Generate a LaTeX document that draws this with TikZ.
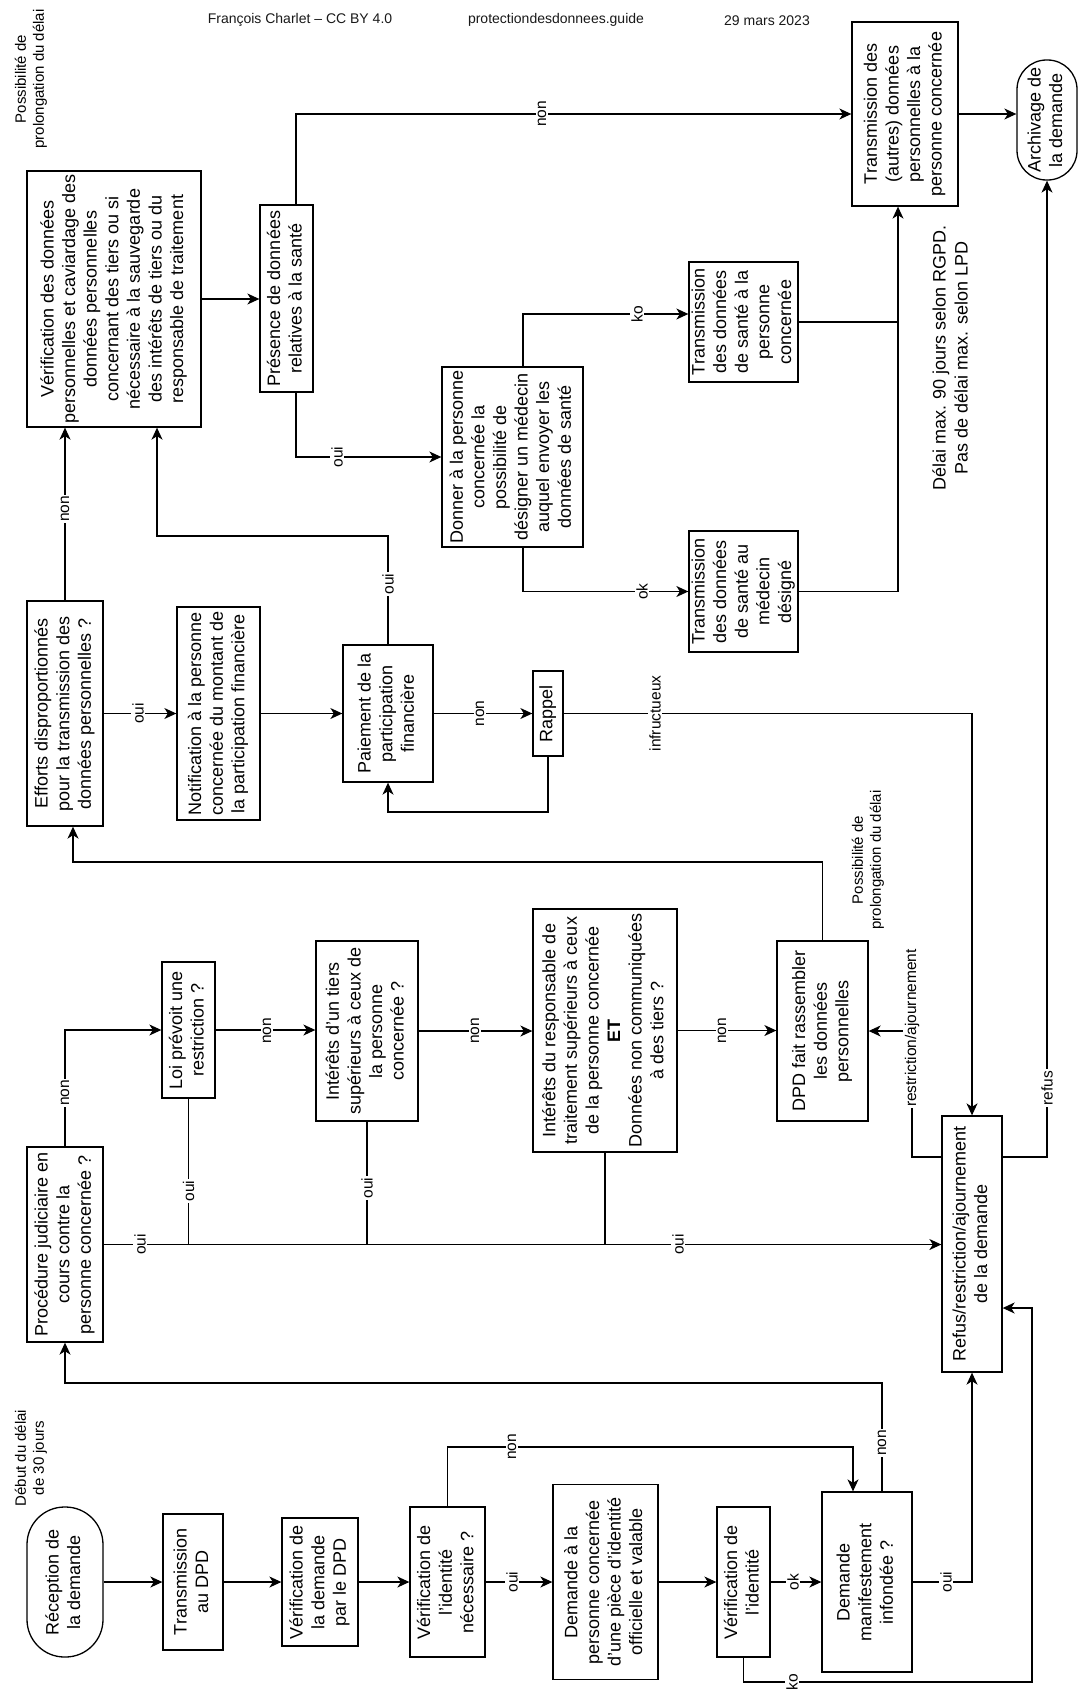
\documentclass[tikz,border=0pt]{standalone}
\usepackage{fontspec}
\setmainfont{Liberation Sans}
\usetikzlibrary{arrows.meta}
\newcommand\vtxt[1]{\rotatebox{90}{\begin{tabular}{@{}c@{}}#1\end{tabular}}}
\begin{document}
\begin{tikzpicture}[x=1pt,y=-1pt,
  box/.style={draw, line width=1.3pt, inner sep=0pt, font=\fontsize{18}{21.6}\selectfont},
  term/.style={box, rounded corners=#1},
  arr/.style={line width=1.3pt, -{Stealth[length=12pt,width=11pt,inset=3.5pt]}},
  ln/.style={line width=1.3pt},
  lbl/.style={fill=white, inner sep=1.5pt, rotate=90, font=\fontsize{15.5}{18}\selectfont},
  note/.style={align=center, rotate=90, inner sep=0pt, font=\fontsize{15}{18}\selectfont},
  bignote/.style={align=center, rotate=90, inner sep=0pt, font=\fontsize{18}{22}\selectfont},
  hdr/.style={inner sep=0pt, text=black!90, font=\fontsize{14}{16}\selectfont}
]
\useasboundingbox (0,0) rectangle (1079,1694);
\fill[white] (0,0) rectangle (1079,1694);

% header
\node[hdr] (h1) at (300,20) {François Charlet – CC BY 4.0};
\node[hdr] (h2) at (556,20) {protectiondesdonnees.guide};
\node[hdr] (h3) at (767,21) {29 mars 2023};

% notes
\node[note] (n1) at (31,79) {Possibilité de\\prolongation du délai};
\node[note] (n2) at (868,860) {Possibilité de\\prolongation du délai};
\node[note] (n3) at (31,1458) {Début du délai\\de 30 jours};
\node[bignote] (n4) at (950,358) {Délai max. 90 jours selon RGPD.\\Pas de délai max. selon LPD};

% boxes
\node[box, minimum width=174, minimum height=256] (verifcav) at (114,299) {\vtxt{Vérification des données\\personnelles et caviardage des\\données personnelles\\concernant des tiers ou si\\nécessaire à la sauvegarde\\des intérêts de tiers ou du\\responsable de traitement}};
\node[box, minimum width=53, minimum height=187] (presence) at (286.5,298.5) {\vtxt{Présence de données\\relatives à la santé}};
\node[box, minimum width=106, minimum height=184] (transautres) at (905,114) {\vtxt{Transmission des\\(autres) données\\personnelles à la\\personne concernée}};
\node[term=29.5pt, minimum width=60, minimum height=120] (archivage) at (1047,120) {\vtxt{Archivage de\\la demande}};
\node[box, minimum width=141, minimum height=180] (donner) at (512.5,457) {\vtxt{Donner à la personne\\concernée la\\possibilité de\\désigner un médecin\\auquel envoyer les\\données de santé}};
\node[box, minimum width=109, minimum height=120] (santepers) at (743.5,322) {\vtxt{Transmission\\des données\\de santé à la\\personne\\concernée}};
\node[box, minimum width=109, minimum height=121] (santemed) at (743.5,591.5) {\vtxt{Transmission\\des données\\de santé au\\médecin\\désigné}};
\node[box, minimum width=76, minimum height=225] (efforts) at (65,713.5) {\vtxt{Efforts disproportionnés\\pour la transmission des\\données personnelles ?}};
\node[box, minimum width=83, minimum height=213] (notification) at (218.5,713.5) {\vtxt{Notification à la personne\\concernée du montant de\\la participation financière}};
\node[box, minimum width=90, minimum height=137] (paiement) at (388,713.5) {\vtxt{Paiement de la\\participation\\financière}};
\node[box, minimum width=30, minimum height=85] (rappel) at (548,713.5) {\vtxt{Rappel}};
\node[box, minimum width=76, minimum height=195] (procedure) at (65,1244.5) {\vtxt{Procédure judiciaire en\\cours contre la\\personne concernée ?}};
\node[box, minimum width=53, minimum height=136] (loi) at (188.5,1030) {\vtxt{Loi prévoit une\\restriction ?}};
\node[box, minimum width=102, minimum height=180] (tiers) at (367,1031) {\vtxt{Intérêts d'un tiers\\supérieurs à ceux de\\la personne\\concernée ?}};
\node[box, minimum width=144, minimum height=243] (responsable) at (605,1030.5) {\vtxt{Intérêts du responsable de\\traitement supérieurs à ceux\\de la personne concernée\\\textbf{ET}\\Données non communiquées\\à des tiers ?}};
\node[box, minimum width=91, minimum height=180] (dpd) at (822.5,1031) {\vtxt{DPD fait rassembler\\les données\\personnelles}};
\node[box, minimum width=60, minimum height=256] (refus) at (972,1244) {\vtxt{Refus/restriction/ajournement\\de la demande}};
\node[term=37.5pt, minimum width=76, minimum height=150] (reception) at (65,1582) {\vtxt{Réception de\\la demande}};
\node[box, minimum width=60, minimum height=136] (transdpd) at (193,1582) {\vtxt{Transmission\\au DPD}};
\node[box, minimum width=76, minimum height=128] (verifdpd) at (320,1582) {\vtxt{Vérification de\\la demande\\par le DPD}};
\node[box, minimum width=75, minimum height=150] (verifnec) at (447.5,1582) {\vtxt{Vérification de\\l'identité\\nécessaire ?}};
\node[box, minimum width=105, minimum height=195] (piece) at (605.5,1582) {\vtxt{Demande à la\\personne concernée\\d'une pièce d'identité\\officielle et valable}};
\node[box, minimum width=53, minimum height=150] (verifid) at (743.5,1582) {\vtxt{Vérification de\\l'identité}};
\node[box, minimum width=90, minimum height=180] (manif) at (867,1582) {\vtxt{Demande\\manifestement\\infondée ?}};

% connectors
\draw[arr] (reception.east) -- (transdpd.west);
\draw[arr] (transdpd.east) -- (verifdpd.west);
\draw[arr] (verifdpd.east) -- (verifnec.west);
\draw[arr] (verifnec.east) -- (piece.west);
\draw[arr] (piece.east) -- (verifid.west);
\draw[arr] (verifid.east) -- (manif.west);
\draw[arr] (verifnec.north) -- (447.5,1447) -- (853,1447) -- ([xshift=-14pt]manif.north);
\draw[arr] (verifid.south) -- (743.5,1682) -- (1032,1682) -- (1032,1308) -- ([yshift=-64pt]refus.east);
\draw[arr] (manif.east) -- (972,1582) -- (refus.south);
\draw[arr] ([xshift=15pt]manif.north) -- (882,1383) -- (65,1383) -- (procedure.south);
\draw[arr] (procedure.east) -- (procedure.east -| refus.west);
\draw[arr] (procedure.north) -- (65,1030) -- (loi.west);
\draw[arr] (loi.east) -- (loi.east -| tiers.west);
\draw[ln] (loi.south) -- (188.5,1244.5);
\draw[arr] (tiers.east) -- (tiers.east -| responsable.west);
\draw[ln] (tiers.south) -- (367,1244.5);
\draw[arr] (responsable.east) -- (responsable.east -| dpd.west);
\draw[ln] (responsable.south) -- (605,1244.5);
\draw[arr] (dpd.north) -- (822.5,862) -- (73,862) -- ([xshift=8pt]efforts.south);
\draw[arr] ([yshift=87pt]refus.west) -- (912,1157) -- (912,1031) -- (dpd.east);
\draw[arr] ([yshift=87pt]refus.east) -- (1047,1157) -- (archivage.south);
\draw[arr] (efforts.north) -- (efforts.north |- verifcav.south);
\draw[arr] (efforts.east) -- (notification.west);
\draw[arr] (notification.east) -- (paiement.west);
\draw[arr] (paiement.east) -- (rappel.west);
\draw[arr] (rappel.south) -- (548,812) -- (388,812) -- (paiement.south);
\draw[arr] (rappel.east) -- (972,713.5) -- (refus.north);
\draw[arr] (paiement.north) -- (388,536) -- (157,536) -- ([xshift=43pt]verifcav.south);
\draw[arr] (verifcav.east) -- (verifcav.east -| presence.west);
\draw[arr] ([xshift=9.5pt]presence.north) -- (296,114) -- (transautres.west);
\draw[arr] ([xshift=9.5pt]presence.south) -- (296,457) -- (donner.west);
\draw[arr] ([xshift=10.5pt]donner.north) -- (523,314) -- ([yshift=8pt]santepers.west);
\draw[arr] ([xshift=10.5pt]donner.south) -- (523,591.5) -- (santemed.west);
\draw[ln] (santepers.east) -- (898,322);
\draw[arr] (santemed.east) -- (898,591.5) -- ([xshift=-7pt]transautres.south);
\draw[arr] (transautres.east) -- (transautres.east -| archivage.west);

% labels
\node[lbl] (l1) at (512,1582) {oui};
\node[lbl] (l2) at (793,1582) {ok};
\node[lbl] (l3) at (512,1447) {non};
\node[lbl] (l4) at (792,1682) {ko};
\node[lbl] (l5) at (946,1582) {oui};
\node[lbl] (l6) at (882,1443) {non};
\node[lbl] (l7) at (140,1244.5) {oui};
\node[lbl] (l8) at (678,1244.5) {oui};
\node[lbl] (l9) at (65,1093) {non};
\node[lbl] (l10) at (267,1031) {non};
\node[lbl] (l11) at (188.5,1191) {oui};
\node[lbl] (l12) at (475,1031) {non};
\node[lbl] (l13) at (367,1188) {oui};
\node[lbl] (l14) at (722,1031) {non};
\node[lbl] (l15) at (912,1028) {restriction/ajournement};
\node[lbl] (l16) at (1047,1088) {refus};
\node[lbl] (l17) at (65,509) {non};
\node[lbl] (l18) at (138,713.5) {oui};
\node[lbl] (l19) at (480,713.5) {non};
\node[lbl] (l20) at (655,713.5) {infructueux};
\node[lbl] (l21) at (388,584) {oui};
\node[lbl] (l22) at (542,114) {non};
\node[lbl] (l23) at (337,457) {oui};
\node[lbl] (l24) at (637,314) {ko};
\node[lbl] (l25) at (642,591.5) {ok};
\end{tikzpicture}
\end{document}
